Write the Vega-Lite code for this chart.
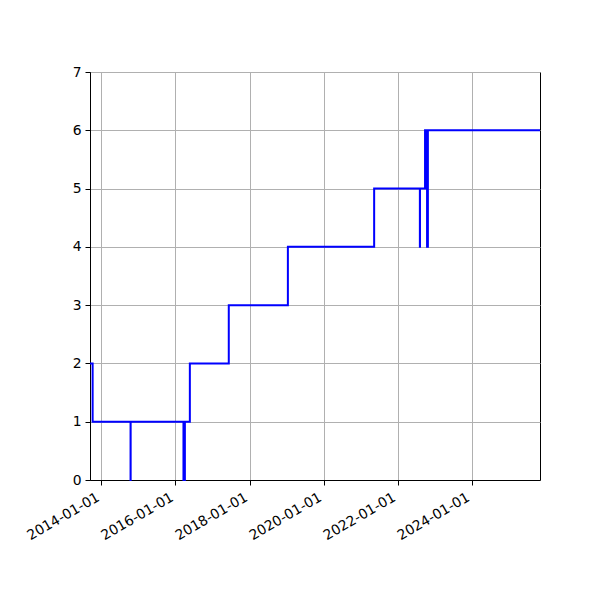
{
  "$schema": "https://vega.github.io/schema/vega-lite/v6.json",
  "autosize": {"type": "none"},
  "padding": {"left": 90, "top": 72, "right": 60, "bottom": 120},
  "width": 450,
  "height": 408,
  "background": "white",
  "data": {
    "values": [
      {"date": "2013-09-10", "value": 2},
      {"date": "2013-10-06", "value": 1},
      {"date": "2014-10-15", "value": 0},
      {"date": "2014-10-16", "value": 1},
      {"date": "2016-03-20", "value": 0},
      {"date": "2016-03-21", "value": 1},
      {"date": "2016-04-02", "value": 0},
      {"date": "2016-04-03", "value": 1},
      {"date": "2016-05-22", "value": 2},
      {"date": "2017-06-10", "value": 3},
      {"date": "2019-01-14", "value": 4},
      {"date": "2021-05-14", "value": 5},
      {"date": "2022-08-08", "value": 4},
      {"date": "2022-08-09", "value": 5},
      {"date": "2022-09-28", "value": 6},
      {"date": "2022-10-02", "value": 5},
      {"date": "2022-10-06", "value": 6},
      {"date": "2022-10-12", "value": 5},
      {"date": "2022-10-18", "value": 4},
      {"date": "2022-10-26", "value": 6},
      {"date": "2025-11-05", "value": 6}
    ]
  },
  "mark": {
    "type": "line",
    "interpolate": "step-after",
    "color": "#0000ff",
    "strokeWidth": 2
  },
  "encoding": {
    "x": {
      "field": "date",
      "type": "temporal",
      "title": null,
      "scale": {"type": "utc", "nice": false},
      "axis": {
        "format": "%Y-%m-%d",
        "tickCount": {"interval": "year", "step": 2},
        "labelAngle": -30,
        "labelAlign": "right",
        "labelBaseline": "top",
        "labelOffset": -7,
        "labelPadding": 5
      }
    },
    "y": {
      "field": "value",
      "type": "quantitative",
      "title": null,
      "scale": {"domain": [0, 7], "nice": false},
      "axis": {"values": [0, 1, 2, 3, 4, 5, 6, 7]}
    }
  },
  "config": {
    "view": {"stroke": "black", "strokeWidth": 1},
    "axis": {
      "grid": true,
      "gridColor": "#b0b0b0",
      "gridWidth": 1,
      "gridOpacity": 1,
      "domainColor": "black",
      "domainWidth": 1,
      "tickColor": "black",
      "tickSize": 5,
      "tickWidth": 1,
      "labelFont": "DejaVu Sans",
      "labelFontSize": 13.9,
      "labelColor": "black",
      "labelPadding": 4,
      "labelOverlap": false
    }
  }
}
